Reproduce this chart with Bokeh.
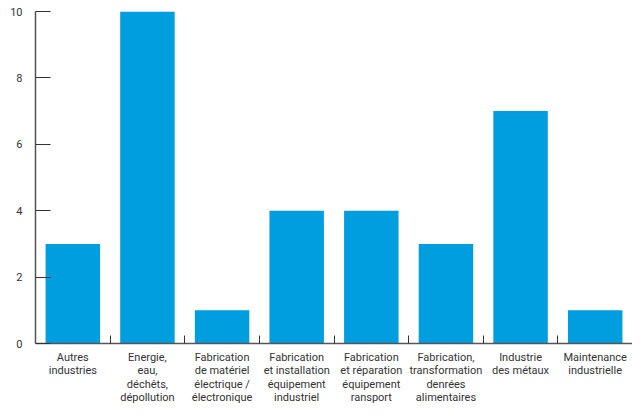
from bokeh.plotting import figure
from bokeh.models import ColumnDataSource, FixedTicker, Range1d
from bokeh.embed import file_html
from bokeh.resources import INLINE

categories = [
    "Autres\nindustries",
    "Energie,\neau,\ndéchêts,\ndépollution",
    "Fabrication\nde matériel\nélectrique /\nélectronique",
    "Fabrication\net installation\néquipement\nindustriel",
    "Fabrication\net réparation\néquipement\nransport",
    "Fabrication,\ntransformation\ndenrées\nalimentaires",
    "Industrie\ndes métaux",
    "Maintenance\nindustrielle",
]
values = [3, 10, 1, 4, 4, 3, 7, 1]
y_ticks = [0, 2, 4, 6, 8, 10]

n = len(categories)
centers = [i + 0.5 for i in range(n)]
boundaries = list(range(1, n))

source = ColumnDataSource(data=dict(x=centers, top=values, name=categories))

p = figure(width=632, height=407, output_backend="svg", toolbar_location=None,
           x_range=Range1d(0, n), y_range=Range1d(0, 10),
           min_border_left=35, min_border_right=0, min_border_top=11, min_border_bottom=10)
p.outline_line_color = None
p.xgrid.grid_line_color = None
p.ygrid.grid_line_color = None
p.background_fill_color = "white"
p.border_fill_color = "white"

p.vbar(x="x", top="top", width=0.73, bottom=0, source=source,
       fill_color="#009ddf", line_color=None)

# x axis
p.xaxis.ticker = FixedTicker(ticks=centers, minor_ticks=boundaries)
p.xaxis.major_label_overrides = {c: lab for c, lab in zip(centers, categories)}
p.xaxis.major_tick_in = 0
p.xaxis.major_tick_out = 0
p.xaxis.minor_tick_in = 8
p.xaxis.minor_tick_out = 0
p.xaxis.minor_tick_line_color = "#333333"
p.xaxis.axis_line_color = "#555555"
p.xaxis.axis_line_width = 1.5
p.xaxis.major_label_standoff = 7
p.xaxis.major_label_text_font = "Roboto"
p.xaxis.major_label_text_font_size = "11px"
p.xaxis.major_label_text_color = "#333333"
p.xaxis.major_label_text_line_height = 1.05

# y axis
p.yaxis.ticker = FixedTicker(ticks=y_ticks)
p.yaxis.minor_tick_line_color = None
p.yaxis.major_tick_in = 15
p.yaxis.major_tick_out = 0
p.yaxis.major_tick_line_color = "#333333"
p.yaxis.axis_line_color = "#555555"
p.yaxis.axis_line_width = 1.5
p.yaxis.major_label_standoff = 13
p.yaxis.major_label_text_font = "Roboto"
p.yaxis.major_label_text_font_size = "11px"
p.yaxis.major_label_text_color = "#333333"

open("out.html", "w").write(file_html(p, INLINE))
